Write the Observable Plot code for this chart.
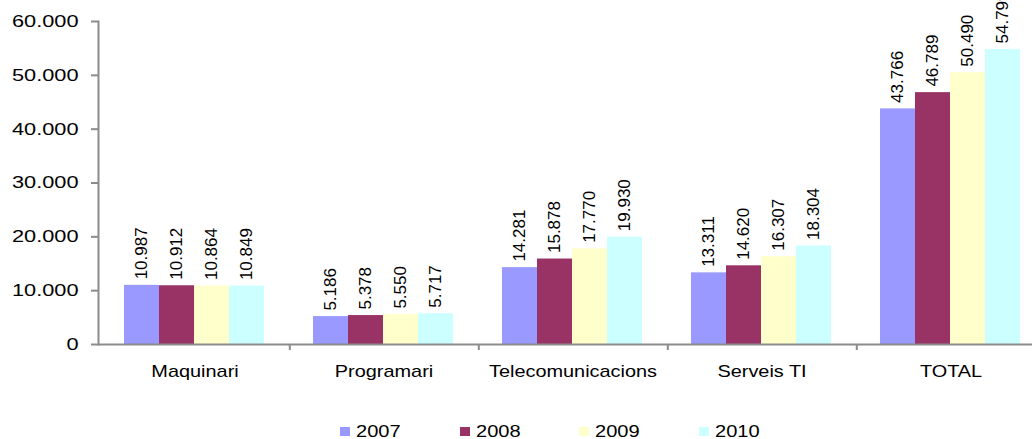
<!DOCTYPE html>
<html><head><meta charset="utf-8">
<script src="https://cdn.jsdelivr.net/npm/d3@7"></script>
<script src="https://cdn.jsdelivr.net/npm/@observablehq/plot@0.6"></script>
<style>
body{margin:0;background:#fff;font-family:"Liberation Sans",Arial,sans-serif;}
#wrap{position:relative;width:1032px;height:439px;overflow:hidden;background:#fff;}
#wrap svg{position:absolute;left:0;top:0;max-width:none !important;}
#legend{position:absolute;top:423px;left:340px;display:flex;font-size:17px;line-height:17px;color:#000;white-space:nowrap;}
#legend .item{width:119.5px;}
#legend .sw{display:inline-block;width:10px;height:9px;margin-right:6px;vertical-align:baseline;position:relative;top:-1px;}
#legend .lt{display:inline-block;transform:scaleX(1.18);transform-origin:left center;}
</style></head><body>
<div id="wrap"></div>
<script>
const categories = ["Maquinari", "Programari", "Telecomunicacions", "Serveis TI", "TOTAL"];
const years = ["2007", "2008", "2009", "2010"];
const values2007 = [10987, 5186, 14281, 13311, 43766];
const values2008 = [10912, 5378, 15878, 14620, 46789];
const values2009 = [10864, 5550, 17770, 16307, 50490];
const values2010 = [10849, 5717, 19930, 18304, 54799];
const yTicks = [0, 10000, 20000, 30000, 40000, 50000, 60000];
const colors = ["#9999FF", "#993366", "#FFFFCC", "#CCFFFF"];

const series = [values2007, values2008, values2009, values2010];
const data = years.flatMap((yr, i) => categories.map((c, j) => ({category: c, year: yr, value: series[i][j]})));

const W = 1046, H = 410, ML = 98, MR = 0, MT = 21, MB = 66;
const fmt = d => d3.format(",")(d).replace(/,/g, ".");
const step = (W - ML - MR) / categories.length;
const axisColor = "#8c8c8c";
const font = '"Liberation Sans", Arial, sans-serif';
const common = {
  width: W, height: H, marginLeft: ML, marginRight: MR, marginTop: MT, marginBottom: MB,
  style: {fontFamily: font, fontSize: "17px", background: "transparent", overflow: "visible", color: "#000", maxWidth: "none"}
};

const axes = Plot.plot({
  ...common,
  x: {type: "band", domain: categories, padding: 0, axis: null},
  y: {domain: [0, 60000], axis: null},
  marks: [
    Plot.ruleY([0], {stroke: axisColor, strokeWidth: 2}),
    Plot.frame({anchor: "left", stroke: axisColor, strokeWidth: 2}),
    Plot.axisY({ticks: yTicks, tickSize: 7, tickPadding: 13, tickFormat: fmt, stroke: axisColor, strokeWidth: 2, fill: "#000", label: null}),
    Plot.axisX({tickSize: 6, tickFormat: () => "", dx: step / 2, stroke: axisColor, strokeWidth: 2, label: null}),
    Plot.text(categories, {x: d => d, frameAnchor: "bottom", lineAnchor: "top", dy: 20, fontSize: 17, fill: "#000"})
  ]
});

const bars = Plot.plot({
  ...common,
  fx: {domain: categories, paddingInner: 0.261, paddingOuter: 0.1305, axis: null},
  x: {domain: years, padding: 0, axis: null},
  y: {domain: [0, 60000], axis: null},
  color: {domain: years, range: colors},
  marks: [
    Plot.barY(data, {fx: "category", x: "year", y: "value", fill: "year"}),
    Plot.text(data, {fx: "category", x: "year", y: "value", text: d => fmt(d.value), rotate: -90, textAnchor: "start", dy: -6, fontSize: 17, fill: "#000"})
  ]
});

const wrap = document.getElementById("wrap");
wrap.appendChild(bars);
wrap.appendChild(axes);

// widen horizontal texts (the reference uses a horizontally stretched face)
function stretchTexts(svg, labels, sx) {
  const set = new Set(labels);
  svg.querySelectorAll("text").forEach(t => {
    if (!set.has(t.textContent)) return;
    const len = t.getComputedTextLength();
    if (len > 0) {
      t.setAttribute("textLength", len * sx);
      t.setAttribute("lengthAdjust", "spacingAndGlyphs");
    }
  });
}
stretchTexts(axes, yTicks.map(fmt), 1.28);
stretchTexts(axes, categories, 1.17);

const legend = document.createElement("div");
legend.id = "legend";
years.forEach((yr, i) => {
  const item = document.createElement("div");
  item.className = "item";
  const sw = document.createElement("span");
  sw.className = "sw";
  sw.style.background = colors[i];
  const lt = document.createElement("span");
  lt.className = "lt";
  lt.textContent = yr;
  item.appendChild(sw);
  item.appendChild(lt);
  legend.appendChild(item);
});
wrap.appendChild(legend);
</script>
</body></html>
